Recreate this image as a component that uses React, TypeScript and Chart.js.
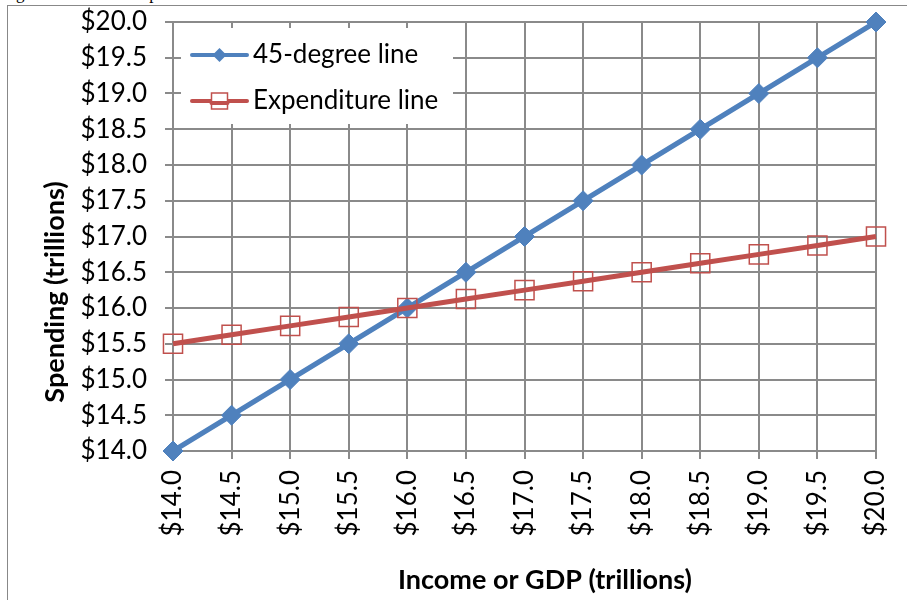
import { useEffect, useRef } from "react";
import { Chart, registerables } from "chart.js";

Chart.register(...registerables);

const incomeTrillions = [14.0, 14.5, 15.0, 15.5, 16.0, 16.5, 17.0, 17.5, 18.0, 18.5, 19.0, 19.5, 20.0];
const fortyFiveLine = [14.0, 14.5, 15.0, 15.5, 16.0, 16.5, 17.0, 17.5, 18.0, 18.5, 19.0, 19.5, 20.0];
const expenditureLine = [15.5, 15.625, 15.75, 15.875, 16.0, 16.125, 16.25, 16.375, 16.5, 16.625, 16.75, 16.875, 17.0];
const seriesLabels = ["45-degree line", "Expenditure line"];
const xTitle = "Income or GDP (trillions)";
const yTitle = "Spending (trillions)";
const captionText = "degree line and the expenditure line.";
const axisMin = 14;
const axisMax = 20;
const axisStep = 0.5;

const FONT = "Lato, 'Open Sans', sans-serif";
const BLUE = "#4F81BD";
const RED = "#C0504D";
const GRID = "#8a8a8a";

const excelLegend = {
  id: "excelLegend",
  beforeDatasetsDraw(chart: any) {
    const ctx = chart.ctx as CanvasRenderingContext2D;
    const ca = chart.chartArea;
    const x0 = ca.left + 8;
    const y0 = ca.top + 6;
    ctx.save();
    ctx.fillStyle = "#ffffff";
    ctx.fillRect(x0, y0, 272, 96);
    chart.data.datasets.forEach((ds: any, i: number) => {
      const cy = y0 + 27 + i * 46;
      const lx0 = x0 + 11;
      const lx1 = x0 + 66;
      const mx = (lx0 + lx1) / 2;
      ctx.strokeStyle = ds.borderColor;
      ctx.lineWidth = 4;
      ctx.lineCap = "round";
      ctx.beginPath();
      ctx.moveTo(lx0, cy);
      ctx.lineTo(lx1, cy);
      ctx.stroke();
      if (ds.pointStyle === "rectRot") {
        const r = 7;
        ctx.fillStyle = ds.pointBackgroundColor;
        ctx.beginPath();
        ctx.moveTo(mx - r, cy);
        ctx.lineTo(mx, cy - r);
        ctx.lineTo(mx + r, cy);
        ctx.lineTo(mx, cy + r);
        ctx.closePath();
        ctx.fill();
      } else {
        ctx.fillStyle = "#ffffff";
        ctx.fillRect(mx - 8, cy - 8, 16, 16);
        ctx.strokeStyle = ds.pointBorderColor;
        ctx.lineWidth = 1.5;
        ctx.strokeRect(mx - 8, cy - 8, 16, 16);
        ctx.strokeStyle = ds.borderColor;
        ctx.lineWidth = 4;
        ctx.beginPath();
        ctx.moveTo(mx - 8, cy + 2);
        ctx.lineTo(mx + 8, cy + 2);
        ctx.stroke();
      }
      ctx.fillStyle = "#000000";
      ctx.font = `26px ${FONT}`;
      ctx.textAlign = "left";
      ctx.textBaseline = "middle";
      ctx.fillText(ds.label, x0 + 72, cy);
    });
    ctx.restore();
  },
  afterDraw(chart: any) {
    const ctx = chart.ctx as CanvasRenderingContext2D;
    ctx.save();
    ctx.fillStyle = "#000000";
    ctx.font = `bold 27px ${FONT}`;
    ctx.textAlign = "center";
    ctx.textBaseline = "middle";
    ctx.fillText(xTitle, 545, 580);
    ctx.translate(55, 292);
    ctx.rotate(-Math.PI / 2);
    ctx.fillText(yTitle, 0, 0);
    ctx.restore();
  },
};

function zeroPad(s: any) {
  s.paddingTop = 0;
  s.paddingBottom = 0;
  s.paddingLeft = 0;
  s.paddingRight = 0;
}

export default function App() {
  const canvasRef = useRef<HTMLCanvasElement | null>(null);

  useEffect(() => {
    if (!canvasRef.current) return;
    const tickFmt = (v: any) => "$" + Number(v).toFixed(1);
    const chart = new Chart(canvasRef.current, {
      type: "line",
      data: {
        datasets: [
          {
            label: seriesLabels[0],
            data: incomeTrillions.map((x, i) => ({ x, y: fortyFiveLine[i] })),
            borderColor: BLUE,
            backgroundColor: BLUE,
            borderWidth: 5,
            pointStyle: "rectRot",
            pointRadius: 10,
            pointBackgroundColor: BLUE,
            pointBorderColor: BLUE,
            pointBorderWidth: 1,
            clip: false,
            order: 1,
          } as any,
          {
            label: seriesLabels[1],
            data: incomeTrillions.map((x, i) => ({ x, y: expenditureLine[i] })),
            borderColor: RED,
            backgroundColor: RED,
            borderWidth: 5,
            pointStyle: "rect",
            pointRadius: 13.5,
            pointBackgroundColor: "rgba(0,0,0,0)",
            pointBorderColor: RED,
            pointBorderWidth: 1.5,
            clip: false,
            order: 0,
          } as any,
        ],
      },
      options: {
        animation: false,
        responsive: false,
        devicePixelRatio: 1,
        layout: { padding: { top: 22, right: 31, left: 0, bottom: 0 } },
        plugins: { legend: { display: false }, tooltip: { enabled: false } },
        scales: {
          x: {
            type: "linear",
            min: axisMin,
            max: axisMax,
            afterFit: (s: any) => {
              s.height = 149;
              zeroPad(s);
            },
            ticks: {
              stepSize: axisStep,
              autoSkip: false,
              minRotation: 90,
              maxRotation: 90,
              padding: 11,
              color: "#000",
              font: { family: FONT, size: 26 },
              callback: tickFmt,
            },
            grid: { color: GRID, lineWidth: 2, tickLength: 8, drawTicks: true },
            border: { color: GRID, width: 2 },
          },
          y: {
            type: "linear",
            min: axisMin,
            max: axisMax,
            afterFit: (s: any) => {
              s.width = 173;
              zeroPad(s);
            },
            ticks: {
              stepSize: axisStep,
              autoSkip: false,
              padding: 18,
              color: "#000",
              font: { family: FONT, size: 26 },
              callback: tickFmt,
            },
            grid: { color: GRID, lineWidth: 2, tickLength: 8, drawTicks: true },
            border: { color: GRID, width: 2 },
          },
        },
      } as any,
      plugins: [excelLegend],
    });
    return () => chart.destroy();
  }, []);

  return (
    <div
      style={{
        position: "absolute",
        left: 0,
        top: 0,
        width: 907,
        height: 600,
        overflow: "hidden",
        background: "#fff",
      }}
    >
      <div
        style={{
          position: "absolute",
          left: 0,
          top: -15,
          fontFamily: "'Liberation Serif', 'Times New Roman', serif",
          fontSize: 17,
          lineHeight: "18px",
          whiteSpace: "nowrap",
          color: "#000",
        }}
      >
        {captionText}
      </div>
      <div
        style={{
          position: "absolute",
          left: 7,
          top: 5,
          width: 920,
          height: 620,
          borderTop: "1px solid #888",
          borderLeft: "1px solid #888",
        }}
      />
      <canvas
        ref={canvasRef}
        width={907}
        height={600}
        style={{ position: "absolute", left: 0, top: 0, width: 907, height: 600 }}
      />
    </div>
  );
}
